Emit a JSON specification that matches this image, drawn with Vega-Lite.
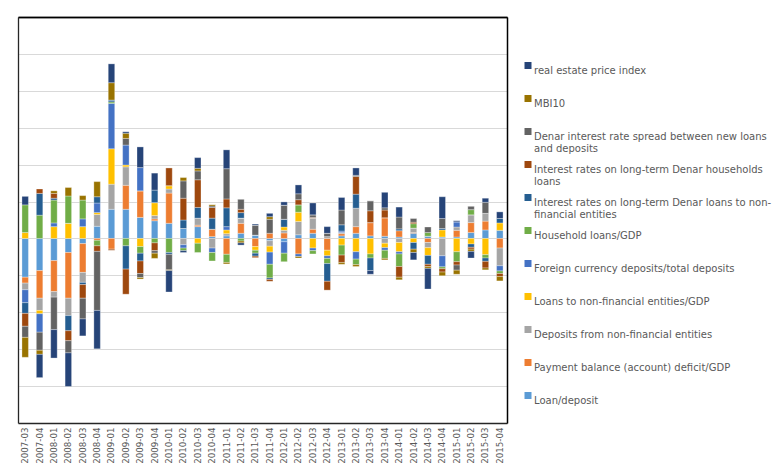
{
  "$schema": "https://vega.github.io/schema/vega-lite/v6.json",
  "width": 489,
  "height": 406,
  "autosize": {"type": "none"},
  "padding": {"left": 18, "top": 17, "right": 273, "bottom": 49},
  "background": "white",
  "data": {
    "values": [
      {"q": "2007-03", "k01": -1.05, "k02": -0.16, "k03": -0.18, "k04": 0.16, "k05": -0.35, "k06": 0.75, "k07": -0.29, "k08": -0.35, "k09": -0.30, "k10": -0.54, "k11": 0.23},
      {"q": "2007-04", "k01": -0.87, "k02": -0.75, "k03": -0.33, "k04": -0.09, "k05": -0.50, "k06": 0.63, "k07": 0.59, "k08": 0.12, "k09": -0.49, "k10": -0.11, "k11": -0.63},
      {"q": "2008-01", "k01": -0.60, "k02": -0.84, "k03": -0.15, "k04": 0.32, "k05": 0.10, "k06": 0.62, "k07": 0.05, "k08": 0.13, "k09": -0.88, "k10": 0.07, "k11": -0.77},
      {"q": "2008-02", "k01": -0.38, "k02": -1.24, "k03": -0.47, "k04": 0.41, "k05": 0, "k06": 0.74, "k07": -0.41, "k08": -0.27, "k09": -0.33, "k10": 0.23, "k11": -0.91},
      {"q": "2008-03", "k01": -0.14, "k02": -0.78, "k03": -0.27, "k04": 0.32, "k05": 0.21, "k06": 0.51, "k07": -0.06, "k08": -0.37, "k09": -0.56, "k10": 0.12, "k11": -0.46},
      {"q": "2008-04", "k01": 0.33, "k02": -0.05, "k03": 0.32, "k04": 0.05, "k05": 0.26, "k06": -0.15, "k07": 0.17, "k08": -0.15, "k09": -1.60, "k10": 0.41, "k11": -1.04},
      {"q": "2009-01", "k01": 0.79, "k02": -0.29, "k03": 0.68, "k04": 0.96, "k05": 1.23, "k06": 0.04, "k07": 0.05, "k08": -0.03, "k09": 0, "k10": 0.47, "k11": 0.51},
      {"q": "2009-02", "k01": 0.79, "k02": 0.65, "k03": 0.50, "k04": 0.05, "k05": 0.54, "k06": -0.20, "k07": -0.63, "k08": -0.68, "k09": 0.18, "k10": 0.14, "k11": 0.04},
      {"q": "2009-03", "k01": 0.57, "k02": 0.72, "k03": 0, "k04": -0.22, "k05": 0.63, "k06": -0.18, "k07": -0.21, "k08": -0.34, "k09": -0.11, "k10": -0.04, "k11": 0.56},
      {"q": "2009-04", "k01": 0.48, "k02": 0.05, "k03": 0.09, "k04": 0.35, "k05": 0, "k06": -0.12, "k07": 0.34, "k08": -0.21, "k09": -0.07, "k10": -0.14, "k11": 0.46},
      {"q": "2010-01", "k01": 0.41, "k02": 0.82, "k03": 0.11, "k04": 0.09, "k05": 0, "k06": -0.38, "k07": -0.05, "k08": 0.48, "k09": -0.42, "k10": -0.02, "k11": -0.58},
      {"q": "2010-02", "k01": 0.27, "k02": 0, "k03": -0.17, "k04": 0, "k05": -0.09, "k06": -0.07, "k07": 0.23, "k08": 0.59, "k09": 0.47, "k10": 0.09, "k11": -0.05},
      {"q": "2010-03", "k01": 0.32, "k02": 0.04, "k03": 0.19, "k04": -0.13, "k05": 0, "k06": -0.25, "k07": 0.29, "k08": 0.75, "k09": 0.24, "k10": 0.07, "k11": 0.29},
      {"q": "2010-04", "k01": 0.05, "k02": 0.20, "k03": -0.26, "k04": 0, "k05": -0.12, "k06": -0.23, "k07": 0.30, "k08": 0.29, "k09": 0.04, "k10": 0.04, "k11": 0},
      {"q": "2011-01", "k01": 0.07, "k02": -0.43, "k03": 0.06, "k04": 0.10, "k05": 0.09, "k06": -0.22, "k07": 0.51, "k08": 0.24, "k09": 0.82, "k10": -0.04, "k11": 0.51},
      {"q": "2011-02", "k01": 0.14, "k02": 0.27, "k03": 0.14, "k04": 0, "k05": 0, "k06": -0.07, "k07": 0.15, "k08": 0.09, "k09": 0.27, "k10": -0.05, "k11": -0.06},
      {"q": "2011-03", "k01": 0.09, "k02": -0.22, "k03": 0, "k04": -0.10, "k05": 0, "k06": -0.08, "k07": -0.08, "k08": -0.04, "k09": 0.27, "k10": 0, "k11": 0.03},
      {"q": "2011-04", "k01": -0.06, "k02": 0.14, "k03": -0.15, "k04": -0.16, "k05": -0.33, "k06": -0.37, "k07": -0.04, "k08": -0.05, "k09": 0.38, "k10": 0.07, "k11": 0.09},
      {"q": "2012-01", "k01": -0.09, "k02": 0.15, "k03": 0.07, "k04": 0.09, "k05": -0.31, "k06": -0.23, "k07": 0.21, "k08": 0, "k09": 0.38, "k10": 0, "k11": 0.09},
      {"q": "2012-02", "k01": 0.10, "k02": -0.42, "k03": 0.36, "k04": 0.25, "k05": -0.07, "k06": 0.20, "k07": 0, "k08": 0.14, "k09": 0.16, "k10": -0.04, "k11": 0.24},
      {"q": "2012-03", "k01": 0.14, "k02": 0.11, "k03": 0.30, "k04": -0.26, "k05": -0.07, "k06": -0.09, "k07": 0, "k08": 0.02, "k09": 0.07, "k10": 0, "k11": 0.32},
      {"q": "2012-04", "k01": 0, "k02": -0.32, "k03": 0.05, "k04": -0.15, "k05": -0.07, "k06": -0.14, "k07": -0.48, "k08": -0.24, "k09": 0.09, "k10": 0, "k11": 0.18},
      {"q": "2013-01", "k01": 0.07, "k02": 0.06, "k03": 0.03, "k04": -0.18, "k05": 0.04, "k06": -0.27, "k07": 0.17, "k08": -0.20, "k09": 0.40, "k10": -0.05, "k11": 0.34},
      {"q": "2013-02", "k01": 0.14, "k02": 0.18, "k03": 0.50, "k04": -0.36, "k05": -0.20, "k06": -0.15, "k07": 0.38, "k08": 0.48, "k09": 0.03, "k10": -0.05, "k11": 0.20},
      {"q": "2013-03", "k01": 0.07, "k02": 0.36, "k03": 0, "k04": -0.42, "k05": 0, "k06": -0.11, "k07": -0.34, "k08": 0.32, "k09": 0.27, "k10": 0, "k11": -0.10},
      {"q": "2013-04", "k01": 0.06, "k02": 0.50, "k03": -0.13, "k04": -0.12, "k05": -0.07, "k06": -0.22, "k07": 0, "k08": 0.21, "k09": 0.06, "k10": -0.04, "k11": 0.42},
      {"q": "2014-01", "k01": 0.04, "k02": 0.17, "k03": -0.11, "k04": -0.25, "k05": -0.06, "k06": -0.34, "k07": 0.05, "k08": -0.29, "k09": 0.32, "k10": -0.07, "k11": 0.27},
      {"q": "2014-02", "k01": 0.14, "k02": 0.02, "k03": 0.12, "k04": -0.11, "k05": 0, "k06": 0.12, "k07": -0.18, "k08": 0.04, "k09": 0.10, "k10": -0.09, "k11": -0.20},
      {"q": "2014-03", "k01": 0.06, "k02": -0.11, "k03": -0.14, "k04": -0.21, "k05": 0, "k06": 0.10, "k07": -0.24, "k08": -0.06, "k09": 0.15, "k10": -0.05, "k11": -0.56},
      {"q": "2014-04", "k01": 0.04, "k02": 0, "k03": -0.47, "k04": 0.19, "k05": -0.30, "k06": -0.05, "k07": 0.04, "k08": -0.09, "k09": 0.27, "k10": -0.10, "k11": 0.59},
      {"q": "2015-01", "k01": 0.04, "k02": 0.18, "k03": 0.09, "k04": -0.36, "k05": 0.14, "k06": -0.27, "k07": 0, "k08": -0.09, "k09": -0.14, "k10": -0.11, "k11": 0.03},
      {"q": "2015-02", "k01": 0.16, "k02": 0.27, "k03": 0.21, "k04": -0.15, "k05": 0, "k06": 0.14, "k07": -0.09, "k08": -0.05, "k09": 0.09, "k10": -0.06, "k11": -0.18},
      {"q": "2015-03", "k01": 0.23, "k02": 0.24, "k03": 0.21, "k04": -0.44, "k05": 0, "k06": -0.09, "k07": -0.09, "k08": -0.18, "k09": 0.30, "k10": -0.05, "k11": 0.11},
      {"q": "2015-04", "k01": 0.22, "k02": -0.26, "k03": -0.48, "k04": 0.20, "k05": -0.14, "k06": -0.07, "k07": 0.12, "k08": -0.08, "k09": 0, "k10": -0.12, "k11": 0.18}
    ]
  },
  "transform": [
    {"fold": ["k01", "k02", "k03", "k04", "k05", "k06", "k07", "k08", "k09", "k10", "k11"], "as": ["key", "v"]}
  ],
  "layer": [
    {
      "mark": {"type": "bar", "stroke": "#ffffff", "strokeWidth": 0.5, "strokeOpacity": 0.6},
      "encoding": {
        "x": {
          "field": "q",
          "type": "ordinal",
          "sort": null,
          "scale": {"paddingInner": 0.55, "paddingOuter": 0.275},
          "axis": {
            "title": null,
            "labelAngle": -90,
            "domain": true,
            "domainColor": "#262626",
            "domainWidth": 1.3,
            "ticks": false,
            "grid": false,
            "labelPadding": 4,
            "labelFont": "DejaVu Sans",
            "labelFontSize": 8.7,
            "labelColor": "#595959"
          }
        },
        "y": {
          "field": "v",
          "type": "quantitative",
          "stack": "zero",
          "scale": {"domain": [-5, 6], "nice": false, "zero": false},
          "axis": {
            "title": null,
            "labels": false,
            "ticks": false,
            "domain": true,
            "domainColor": "#262626",
            "domainWidth": 1.3,
            "values": [-4, -3, -2, -1, 0, 1, 2, 3, 4, 5, 6],
            "gridColor": {"condition": {"test": "datum.value == 6", "value": "#262626"}, "value": "#d9d9d9"},
            "gridWidth": {"condition": {"test": "datum.value == 6", "value": 1.5}, "value": 1}
          }
        },
        "color": {
          "field": "key",
          "type": "nominal",
          "scale": {
            "domain": ["k11", "k10", "k09", "k08", "k07", "k06", "k05", "k04", "k03", "k02", "k01"],
            "range": ["#264478", "#997300", "#636363", "#9E480E", "#255E91", "#70AD47", "#4472C4", "#FFC000", "#A5A5A5", "#ED7D31", "#5B9BD5"]
          },
          "legend": {
            "title": null,
            "orient": "none",
            "legendX": 505,
            "legendY": 43.5,
            "padding": 0,
            "symbolType": "square",
            "symbolSize": 49,
            "symbolStrokeWidth": 0,
            "labelFont": "DejaVu Sans",
            "labelFontSize": 10,
            "labelColor": "#595959",
            "labelLimit": 400,
            "labelOffset": 1,
            "labelBaseline": "top",
            "rowPadding": 6,
            "labelExpr": "datum.value=='k11'?'real estate price index':datum.value=='k10'?' MBI10':datum.value=='k09'?['Denar interest rate spread between new loans','and deposits']:datum.value=='k08'?['Interest rates on long-term Denar households','loans']:datum.value=='k07'?['Interest rates on long-term Denar loans to non-','financial entities']:datum.value=='k06'?'Household loans/GDP':datum.value=='k05'?'Foreign currency deposits/total deposits':datum.value=='k04'?'Loans to non-financial entities/GDP':datum.value=='k03'?'Deposits from non-financial entities':datum.value=='k02'?'Payment balance (account) deficit/GDP':'Loan/deposit'",
            "encode": {
              "labels": {"update": {"dy": {"value": -9}, "lineHeight": {"value": 14}}}
            }
          }
        },
        "order": {"field": "key", "sort": "ascending"}
      }
    },
    {
      "mark": {"type": "bar", "opacity": 0},
      "encoding": {
        "x": {
          "field": "q",
          "type": "ordinal",
          "sort": null,
          "axis": {"orient": "top", "title": null, "labels": false, "ticks": false, "grid": false, "domain": true, "domainColor": "#000000", "domainWidth": 1.5}
        },
        "y": {
          "field": "v",
          "type": "quantitative",
          "axis": {"orient": "right", "title": null, "labels": false, "ticks": false, "grid": false, "domain": true, "domainColor": "#000000", "domainWidth": 1.5}
        }
      }
    }
  ],
  "resolve": {"axis": {"x": "independent", "y": "independent"}},
  "config": {
    "view": {"stroke": null},
    "legend": {"gridAlign": "all"}
  }
}
